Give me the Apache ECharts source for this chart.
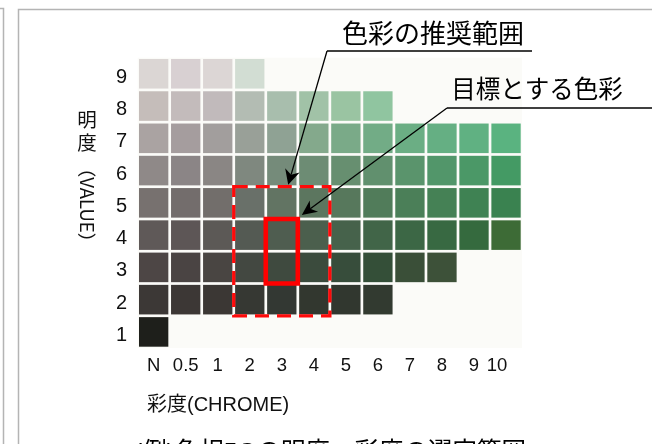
<!DOCTYPE html>
<html>
<head>
<meta charset="utf-8">
<script src="https://cdn.jsdelivr.net/npm/echarts@6/dist/echarts.min.js"></script>
<style>
html,body{margin:0;padding:0;background:#fff;}
#c{width:652px;height:444px;}
</style>
</head>
<body>
<div id="c"></div>
<script>
// ---- data ----
const chromaLabels = ['N','0.5','1','2','3','4','5','6','7','8','9','10'];
const valueLabels = ['1','2','3','4','5','6','7','8','9'];
// colour chips per value (明度), from chroma N upward
const value1Colors = ['#1e1f1b'];
const value2Colors = ['#3c3836','#3c3735','#3b3734','#363833','#333833','#32372f','#31372f','#323a30'];
const value3Colors = ['#4d4645','#4a4443','#494542','#434841','#3f4a3f','#3b4b3d','#374d3b','#344f38','#3a4f38','#3d5139'];
const value4Colors = ['#5f5958','#5d5656','#5c5956','#545a53','#4f5d50','#4b5f4d','#46624b','#416548','#3c6745','#386942','#356a3e','#3d6b36'];
const value5Colors = ['#77716f','#736d6c','#726e6b','#697069','#627463','#5c765f','#57785c','#517c5a','#4b7f58','#458155','#3f8253','#3a8250'];
const value6Colors = ['#8f8988','#8b8586','#8a8684','#7f887f','#758b7a','#6d8c74','#678f70','#61906e','#5a946c','#52966a','#4b9867','#449a64'];
const value7Colors = ['#aaa3a2','#a59d9e','#a29e9d','#99a098','#8fa294','#84a98c','#7aaa88','#72ac86','#6bae84','#65af83','#60b182','#5ab380'];
const value8Colors = ['#c5bdba','#c3bbbb','#c1babb','#b3bcb3','#a8bead','#a1c2a7','#9ac4a2','#90c5a0'];
const value9Colors = ['#dbd6d4','#d8d0d2','#dcd6d5','#d2ddd3'];
const rows = [value1Colors,value2Colors,value3Colors,value4Colors,value5Colors,value6Colors,value7Colors,value8Colors,value9Colors];
// ranges: [chromaFrom, chromaTo, valueFrom, valueTo]
const recommendRange = ['2','4','2','5'];   // 色彩の推奨範囲
const targetRange = ['3','3','3','4'];      // 目標とする色彩

// ---- build ----
const cellData = [], cellColors = [];
rows.forEach((cols, vi) => {
  cols.forEach((col, ci) => { cellData.push([ci, vi]); cellColors.push(col); });
});
const rangeItem = r => [chromaLabels.indexOf(r[0]), chromaLabels.indexOf(r[1]), valueLabels.indexOf(r[2]), valueLabels.indexOf(r[3])];

const FONT = "'Liberation Sans', 'Noto Sans CJK JP', sans-serif";
const GAP = 1.35;

const chart = echarts.init(document.getElementById('c'), null, {renderer:'canvas'});

function rangeRect(api){
  const x0 = api.value(0), x1 = api.value(1), y0 = api.value(2), y1 = api.value(3);
  const p0 = api.coord([x0, y1]);
  const p1 = api.coord([x1, y0]);
  const s = api.size([1, 1]);
  return {x: p0[0] - s[0]/2, y: p0[1] - s[1]/2, width: p1[0] - p0[0] + s[0], height: p1[1] - p0[1] + s[1]};
}

const option = {
  backgroundColor: '#ffffff',
  animation: false,
  grid: {left: 137.65, top: 57.65, width: 384.4, height: 290.4, show: true, backgroundColor: '#fbfbf8', borderWidth: 0},
  xAxis: {
    type: 'category', data: chromaLabels,
    axisLine: {show: false}, axisTick: {show: false}, splitLine: {show: false},
    axisLabel: {
      interval: 0, margin: 9, fontSize: 18.5, color: '#111', fontFamily: FONT,
      formatter: v => v === '10' ? '{s|10}' : v,
      rich: {s: {fontSize: 18.5, color: '#111', fontFamily: FONT, padding: [0, 18, 0, 0]}}
    }
  },
  yAxis: {
    type: 'category', data: valueLabels,
    axisLine: {show: false}, axisTick: {show: false}, splitLine: {show: false},
    axisLabel: {
      interval: 0, margin: 10.5, color: '#111', fontFamily: FONT, fontSize: 20,
      formatter: v => '{d|' + v + '}',
      rich: {d: {fontSize: 20, color: '#111', fontFamily: FONT, padding: [7, 0, 0, 0]}}
    }
  },
  series: [
    {
      type: 'custom', data: cellData, encode: {x: 0, y: 1}, silent: true,
      renderItem: (params, api) => {
        const c = api.coord([api.value(0), api.value(1)]);
        const s = api.size([1, 1]);
        return {type: 'rect', shape: {x: c[0] - s[0]/2 + GAP, y: c[1] - s[1]/2 + GAP, width: s[0] - 2*GAP, height: s[1] - 2*GAP},
                style: {fill: cellColors[params.dataIndex]}};
      }
    },
    {
      type: 'custom', data: [rangeItem(recommendRange)], encode: {x: [0, 1], y: [2, 3]}, silent: true, z: 3,
      renderItem: (params, api) => ({type: 'rect', shape: rangeRect(api),
        style: {fill: 'none', stroke: '#ff0a0a', lineWidth: 3.3, lineDash: [14, 8]}})
    },
    {
      type: 'custom', data: [rangeItem(targetRange)], encode: {x: [0, 1], y: [2, 3]}, silent: true, z: 4,
      renderItem: (params, api) => ({type: 'rect', shape: rangeRect(api),
        style: {fill: 'none', stroke: '#ff0000', lineWidth: 4.6}})
    }
  ]
};
chart.setOption(option);

// ---- annotations anchored to data ----
const px = (xi, yi) => chart.convertToPixel({gridIndex: 0}, [xi, yi]);
const a0 = px(0, 0), a1 = px(1, 1);
const bandX = a1[0] - a0[0], bandY = a0[1] - a1[1];
const rr = rangeItem(recommendRange), tr = rangeItem(targetRange);
const recTop = px(rr[0], rr[3])[1] - bandY/2;
const tip1 = [px(chromaLabels.indexOf('3'), 0)[0] + 0.2*bandX, recTop - 2];
const tgtTop = px(tr[1], tr[3]);
const tip2 = [tgtTop[0] + bandX/2 + 4, tgtTop[1] - bandY/2 - 4];

function arrow(S, T, L, W){
  const dx = T[0]-S[0], dy = T[1]-S[1], len = Math.hypot(dx, dy);
  const ux = dx/len, uy = dy/len, nx = -uy, ny = ux;
  const bx = T[0]-ux*L, by = T[1]-uy*L;
  const notch = [T[0]-ux*L*0.7, T[1]-uy*L*0.7];
  return [
    {type: 'polyline', z: 100, shape: {points: [S, notch]}, style: {stroke: '#000', lineWidth: 1.3, fill: null}},
    {type: 'polygon', z: 100, shape: {points: [T, [bx+nx*W, by+ny*W], notch, [bx-nx*W, by-ny*W]]}, style: {fill: '#000'}}
  ];
}

const start1 = [327, 51], start2 = [447, 108];
const graphic = [
  {type: 'polyline', z: 100, shape: {points: [[0, 8.5], [3.5, 8.5], [3.5, 444]]}, style: {stroke: '#b4b4b4', lineWidth: 1.5, fill: null}},
  {type: 'polyline', z: 100, shape: {points: [[18.5, 444], [18.5, 9.5], [652, 9.5]]}, style: {stroke: '#b4b4b4', lineWidth: 1.5, fill: null}},
  {type: 'text', z: 100, x: 433, y: 33, style: {text: '色彩の推奨範囲', font: "26px 'Noto Sans CJK JP', sans-serif", fill: '#000', align: 'center', verticalAlign: 'middle'}},
  {type: 'polyline', z: 100, shape: {points: [start1, [532, 51]]}, style: {stroke: '#000', lineWidth: 1.3, fill: null}},
  {type: 'text', z: 100, x: 537, y: 89, style: {text: '目標とする色彩', font: "24.5px 'Noto Sans CJK JP', sans-serif", fill: '#000', align: 'center', verticalAlign: 'middle'}},
  {type: 'polyline', z: 100, shape: {points: [start2, [652, 108]]}, style: {stroke: '#000', lineWidth: 1.3, fill: null}},
  ...arrow(start1, tip1, 15, 7.5),
  ...arrow(start2, tip2, 15, 7),
  {type: 'text', z: 100, x: 87, y: 108, style: {text: '明\n度', font: "19.5px 'Noto Sans CJK JP', sans-serif", lineHeight: 23, fill: '#111', align: 'center', verticalAlign: 'top'}},
  {type: 'text', z: 100, x: 87, y: 205, rotation: -Math.PI/2, style: {text: '（VALUE）', font: "18.5px 'Noto Sans CJK JP', sans-serif", fill: '#111', align: 'center', verticalAlign: 'middle'}},
  {type: 'text', z: 100, x: 147, y: 405, style: {text: '彩度(CHROME)', font: "20px 'Liberation Sans', 'Noto Sans CJK JP', sans-serif", fill: '#111', align: 'left', verticalAlign: 'middle'}},
  {type: 'text', z: 100, x: 134, y: 441, style: {text: '(例)色相5Gの明度、彩度の選定範囲', font: "24.5px 'Liberation Sans', 'Noto Sans CJK JP', sans-serif", fill: '#000', align: 'left', verticalAlign: 'top'}}
];
chart.setOption({graphic: graphic});
</script>
</body>
</html>
